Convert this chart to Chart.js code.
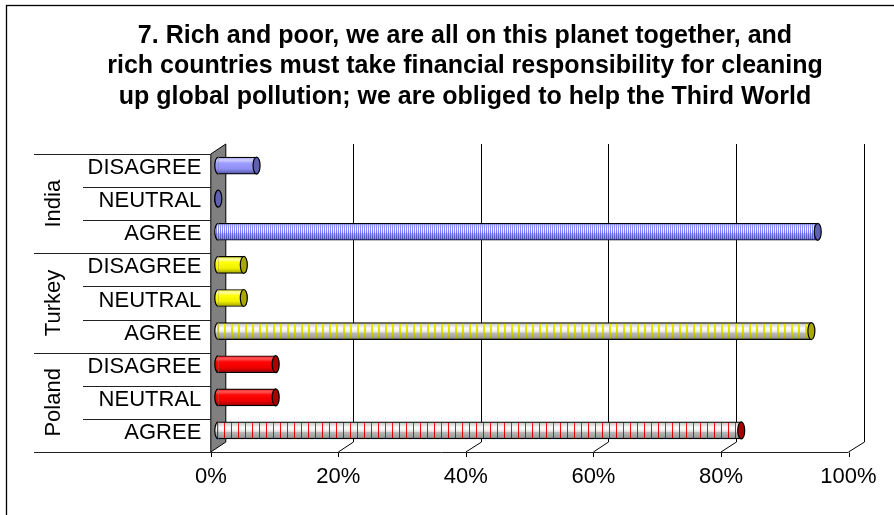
<!DOCTYPE html>
<html><head><meta charset="utf-8">
<script src="https://cdn.jsdelivr.net/npm/chart.js@4/dist/chart.umd.min.js"></script>
<style>html,body{margin:0;padding:0;background:#fff}canvas{display:block}</style>
</head><body>
<canvas id="c" width="894" height="515" style="width:894px;height:515px"></canvas>
<script>
// ---- data ----
const titleLines = [
  '7. Rich and poor, we are all on this planet together, and',
  'rich countries must take financial responsibility for cleaning',
  'up global pollution; we are obliged to help the Third World'
];
const countries = ['India', 'Turkey', 'Poland'];
const responses = ['DISAGREE', 'NEUTRAL', 'AGREE'];
const india = [6, 0, 94];
const turkey = [4, 4, 93];
const poland = [9, 9, 82];
const xTicks = [0, 20, 40, 60, 80, 100];

// ---- built from data ----
const labels = [].concat(responses, responses, responses);
const values = [].concat(india, turkey, poland);

// ---- styles ----
const FONT = '"Liberation Sans", Arial, sans-serif';
const BAR_H = 17;
const DX = 7.5, DY = 5;   // half depth offsets (3D)
const STYLE = [
  { solid: [[0,'#9c9cec'],[0.18,'#cfcfff'],[0.36,'#9d9dff'],[0.7,'#8f8ff4'],[1,'#5252a0']],
    stripe: [[0,'#a0a0ff'],[0.45,'#7c7cff'],[1,'#4646a0']], face: '#6060b0', period: 2, stripeW: 1 },
  { solid: [[0,'#e6e620'],[0.18,'#ffffa0'],[0.36,'#ffff08'],[0.7,'#f0f000'],[1,'#a0a000']],
    stripe: [[0,'#eeee00'],[0.5,'#e0e000'],[1,'#a0a000']], face: '#a8a800', period: 7, stripeW: 2 },
  { solid: [[0,'#ea1c1c'],[0.18,'#ff5656'],[0.36,'#ff0606'],[0.7,'#ee0000'],[1,'#9c0000']],
    stripe: [[0,'#ff2020'],[0.5,'#ff0000'],[1,'#b00000']], face: '#aa0000', period: 7, stripeW: 1 }
];
const GRAY = [[0,'#c0c0c0'],[0.15,'#dcdcdc'],[0.35,'#ffffff'],[0.55,'#e6e6e6'],[0.62,'#b8b8b8'],[0.85,'#a2a2a2'],[1,'#7a7a7a']];

const patCache = {};
function barFill(chart, i) {
  if (!chart.chartArea || !chart.scales.y) return 'rgba(0,0,0,0)';
  const yc = chart.scales.y.getPixelForValue(i);
  const key = i + ':' + Math.round(yc * 10);
  if (patCache[key]) return patCache[key];
  const st = STYLE[Math.floor(i / 3)];
  const agree = (i % 3) === 2;
  const top = yc - BAR_H / 2;
  const period = agree ? st.period : 1;
  const off = document.createElement('canvas');
  off.width = period; off.height = chart.height;
  const g = off.getContext('2d');
  const gr = g.createLinearGradient(0, top, 0, top + BAR_H);
  (agree ? GRAY : st.solid).forEach(([o, c]) => gr.addColorStop(o, c));
  g.fillStyle = gr; g.fillRect(0, 0, period, off.height);
  if (agree) {
    const sg = g.createLinearGradient(0, top, 0, top + BAR_H);
    st.stripe.forEach(([o, c]) => sg.addColorStop(o, c));
    g.fillStyle = sg; g.fillRect(0, 0, st.stripeW, off.height);
  }
  const p = chart.ctx.createPattern(off, 'repeat');
  patCache[key] = p;
  return p;
}

const frame3d = {
  id: 'frame3d',
  beforeDraw(chart) {
    const ctx = chart.ctx, a = chart.chartArea, xs = chart.scales.x;
    const rowH = (a.bottom - a.top) / labels.length;
    ctx.save();
    // outer border
    ctx.strokeStyle = '#000'; ctx.lineWidth = 1.3;
    ctx.strokeRect(6.5, 5.5, 1000, 1000);
    ctx.lineWidth = 1;
    const fx0 = xs.getPixelForValue(0) - DX, bx0 = xs.getPixelForValue(0) + DX;
    const fy = a.bottom + DY, by = a.bottom - DY;
    // back wall grid lines, floor diagonals and ticks
    ctx.strokeStyle = '#000';
    xTicks.forEach(v => {
      const px = xs.getPixelForValue(v);
      const bx = Math.round(px + DX) + 0.5;
      if (v > 0) {
        ctx.beginPath();
        ctx.moveTo(bx, a.top - DY);
        ctx.lineTo(bx, by);
        ctx.lineTo(px - DX, fy);
        ctx.stroke();
      }
      const fx = Math.round(px - DX) + 0.5;
      ctx.beginPath();
      ctx.moveTo(fx, Math.round(fy) + 0.5); ctx.lineTo(fx, Math.round(fy) + 5);
      ctx.stroke();
    });
    // side wall
    ctx.beginPath();
    ctx.moveTo(fx0, a.top + DY); ctx.lineTo(bx0, a.top - DY);
    ctx.lineTo(bx0, by); ctx.lineTo(fx0, fy); ctx.closePath();
    ctx.fillStyle = '#808080'; ctx.fill();
    ctx.strokeStyle = '#000'; ctx.stroke();
    // floor front edge + row separators
    ctx.strokeStyle = '#222';
    for (let k = 0; k <= labels.length; k++) {
      const y = Math.round(a.top + k * rowH + DY) + 0.5;
      const x0 = (k % 3 === 0) ? 34 : 83;
      const x1 = (k === labels.length) ? xs.getPixelForValue(100) - DX : fx0;
      ctx.beginPath(); ctx.moveTo(x0, y); ctx.lineTo(x1, y); ctx.stroke();
    }
    // group labels
    ctx.fillStyle = '#000';
    ctx.font = '22px ' + FONT;
    ctx.textAlign = 'center'; ctx.textBaseline = 'middle';
    countries.forEach((c, gi) => {
      const cy = a.top + DY + (gi * 3 + 1.5) * rowH;
      ctx.save(); ctx.translate(53, cy); ctx.rotate(-Math.PI / 2);
      ctx.fillText(c, 0, 1); ctx.restore();
    });
    ctx.restore();
  },
  afterDatasetsDraw(chart) {
    const ctx = chart.ctx;
    const meta = chart.getDatasetMeta(0);
    ctx.save();
    meta.data.forEach((el, i) => {
      const p = el.getProps(['x', 'y', 'base', 'height'], true);
      const ry = p.height / 2, rx = 3.5;
      const st = STYLE[Math.floor(i / 3)];
      // left rounded cap
      ctx.beginPath();
      ctx.ellipse(p.base, p.y, rx, ry, 0, Math.PI / 2, Math.PI * 1.5);
      ctx.fillStyle = barFill(chart, i); ctx.fill();
      ctx.strokeStyle = '#000'; ctx.lineWidth = 1.2; ctx.stroke();
      // end face
      ctx.beginPath();
      ctx.ellipse(p.x, p.y, rx, ry, 0, 0, Math.PI * 2);
      ctx.fillStyle = st.face; ctx.fill();
      ctx.stroke();
    });
    ctx.restore();
  }
};

new Chart(document.getElementById('c'), {
  type: 'bar',
  data: {
    labels: labels,
    datasets: [{
      data: values,
      backgroundColor: (c) => barFill(c.chart, c.dataIndex),
      borderColor: '#000',
      borderWidth: 1.2,
      borderSkipped: 'start',
      barThickness: BAR_H
    }]
  },
  options: {
    indexAxis: 'y',
    responsive: false,
    animation: false,
    events: [],
    layout: { padding: { left: 36, right: 0, top: 0, bottom: 0 } },
    plugins: {
      legend: { display: false },
      tooltip: { enabled: false },
      title: {
        display: true,
        text: titleLines,
        color: '#000',
        font: { family: FONT, size: 25, weight: 'bold', lineHeight: 1.22 },
        padding: { top: 20.75, bottom: 36.75 }
      }
    },
    scales: {
      x: {
        type: 'linear', min: 0, max: 100, position: 'bottom',
        grid: { display: false, drawTicks: false },
        border: { display: false },
        afterBuildTicks: (s) => { s.ticks = xTicks.map(v => ({ value: v })); },
        afterFit: (s) => { s.height = 68; },
        ticks: { color: '#000', font: { family: FONT, size: 22, lineHeight: '60px' }, padding: 0, labelOffset: -7.5,
                 maxRotation: 0, callback: (v) => v + '%' }
      },
      y: {
        type: 'category',
        grid: { display: false, drawTicks: false },
        border: { display: false },
        afterFit: (s) => { s.width = 182.3; },
        ticks: { color: '#000', font: { family: FONT, size: 22 }, padding: 17, labelOffset: 2.5, autoSkip: false }
      },
      yR: {
        type: 'linear', position: 'right', display: true,
        grid: { display: false, drawTicks: false },
        border: { display: false },
        ticks: { display: false },
        afterFit: (s) => { s.width = 38; }
      }
    }
  },
  plugins: [frame3d]
});
</script>
</body></html>
